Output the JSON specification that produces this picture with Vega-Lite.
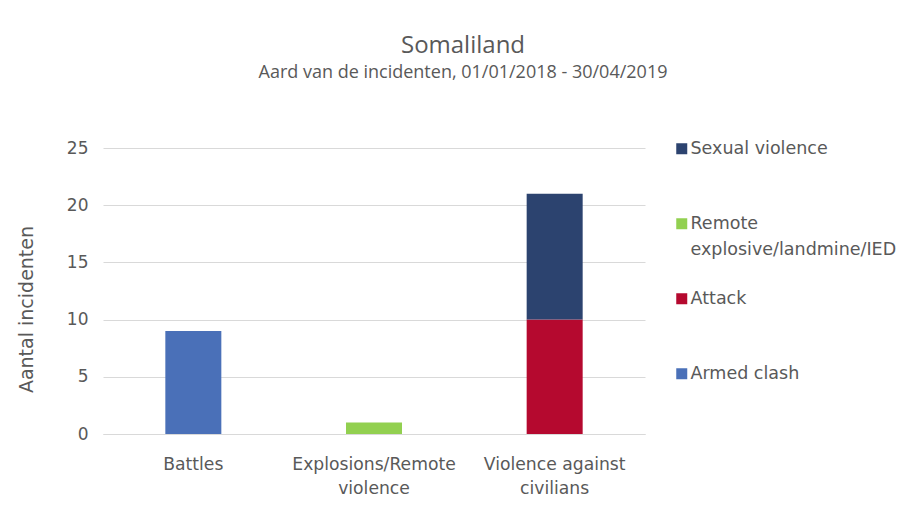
{
  "$schema": "https://vega.github.io/schema/vega-lite/v6.json",
  "autosize": {"type": "none"},
  "width": 542,
  "height": 286,
  "padding": {"left": 103, "top": 148, "right": 261, "bottom": 75},
  "background": "white",
  "title": {
    "text": "Somaliland",
    "subtitle": "Aard van de incidenten, 01/01/2018 - 30/04/2019",
    "anchor": "middle",
    "frame": "group",
    "dx": 89,
    "offset": 57,
    "font": "Liberation Sans Narrow, Open Sans",
    "fontSize": 24,
    "fontWeight": "normal",
    "color": "#595959",
    "subtitleFont": "Liberation Sans Narrow, Open Sans",
    "subtitleFontSize": 18,
    "subtitleColor": "#595959",
    "subtitlePadding": 6
  },
  "data": {
    "values": [
      {"category": "Battles", "type": "Armed clash", "count": 9},
      {"category": "Explosions/Remote violence", "type": "Remote explosive/landmine/IED", "count": 1},
      {"category": "Violence against civilians", "type": "Attack", "count": 10},
      {"category": "Violence against civilians", "type": "Sexual violence", "count": 11}
    ]
  },
  "mark": {"type": "bar"},
  "encoding": {
    "x": {
      "field": "category",
      "type": "nominal",
      "sort": ["Battles", "Explosions/Remote violence", "Violence against civilians"],
      "scale": {"paddingInner": 0.69, "paddingOuter": 0.345},
      "axis": {
        "title": null,
        "labelAngle": 0,
        "ticks": false,
        "domainColor": "#d9d9d9",
        "domainWidth": 1,
        "labelPadding": 21,
        "labelFont": "DejaVu Sans",
        "labelFontSize": 17.2,
        "labelColor": "#595959",
        "labelLineHeight": 24,
        "labelLimit": 200,
        "labelExpr": "datum.value == 'Explosions/Remote violence' ? ['Explosions/Remote', 'violence'] : datum.value == 'Violence against civilians' ? ['Violence against', 'civilians'] : datum.value"
      }
    },
    "y": {
      "field": "count",
      "type": "quantitative",
      "stack": "zero",
      "scale": {"domain": [0, 25]},
      "axis": {
        "title": "Aantal incidenten",
        "titleFont": "DejaVu Sans",
        "titleFontSize": 19,
        "titleFontWeight": "normal",
        "titleColor": "#595959",
        "titlePadding": 30,
        "titleY": 161,
        "values": [0, 5, 10, 15, 20, 25],
        "domain": false,
        "ticks": false,
        "labelPadding": 15,
        "labelFont": "DejaVu Sans",
        "labelFontSize": 17,
        "labelColor": "#595959",
        "gridColor": "#d9d9d9",
        "gridWidth": 1
      }
    },
    "color": {
      "field": "type",
      "type": "nominal",
      "scale": {
        "domain": ["Sexual violence", "Remote explosive/landmine/IED", "Attack", "Armed clash"],
        "range": ["#2c436f", "#92d050", "#b5092f", "#4a70b8"]
      },
      "legend": {
        "title": null,
        "orient": "none",
        "legendX": 570,
        "legendY": -8,
        "padding": 0,
        "symbolType": "square",
        "symbolSize": 121,
        "symbolStrokeWidth": 0,
        "labelFont": "DejaVu Sans",
        "labelFontSize": 17.5,
        "labelColor": "#595959",
        "labelLimit": 300,
        "labelBaseline": "middle",
        "labelOffset": 0,
        "rowPadding": 30,
        "labelExpr": "datum.label == 'Remote explosive/landmine/IED' ? ['Remote', 'explosive/landmine/IED'] : [datum.label, '']",
        "encode": {
          "labels": {"update": {"lineHeight": {"value": 26}}}
        }
      }
    },
    "order": {"field": "type", "sort": "ascending"}
  },
  "config": {
    "view": {"stroke": null}
  }
}
